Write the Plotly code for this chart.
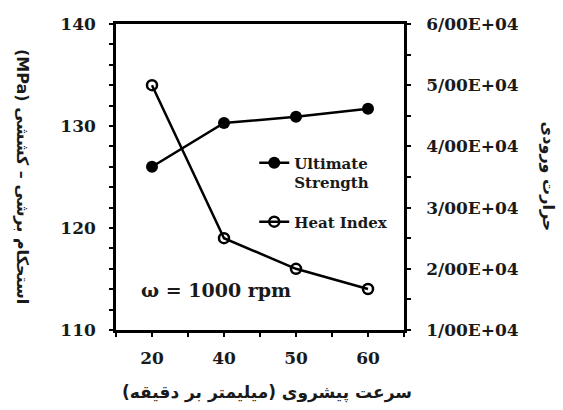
import plotly.graph_objects as go

speeds = ["20", "40", "50", "60"]
strength = [126.0, 130.3, 130.9, 131.7]
heat_index = [50000, 25000, 20000, 16700]
y2_ticks = [10000, 20000, 30000, 40000, 50000, 60000]
y2_ticklabels = ["1/00E+04", "2/00E+04", "3/00E+04", "4/00E+04", "5/00E+04", "6/00E+04"]

xpos = list(range(len(speeds)))
serif = "DejaVu Serif"
fa = "DejaVu Sans"
txt = "#1a1a1a"

fig = go.Figure()
fig.add_trace(go.Scatter(
    x=xpos, y=strength, name="Ultimate<br>Strength", mode="lines+markers",
    legendgroup="a",
    line=dict(color="black", width=2.5),
    marker=dict(symbol="circle", size=12, color="black"),
))
fig.add_trace(go.Scatter(
    x=xpos, y=heat_index, name="Heat Index", mode="lines+markers", yaxis="y2",
    legendgroup="b",
    line=dict(color="black", width=2.5),
    marker=dict(symbol="circle-open", size=10, color="black", line=dict(width=2.5)),
))

axis_common = dict(showline=True, linecolor="black", linewidth=2.5, showgrid=False,
                   zeroline=False, ticks="outside", tickcolor="black", tickwidth=2, ticklen=4)

fig.update_layout(
    width=563, height=410,
    margin=dict(l=116, r=159, t=24, b=80),
    paper_bgcolor="white", plot_bgcolor="white",
    font=dict(family=serif, color=txt),
    xaxis=dict(
        range=[-0.5, 3.5], tickvals=xpos, ticktext=speeds, mirror=True,
        tickfont=dict(family=serif, size=17, color=txt, weight="bold"),
        ticklabelstandoff=7,
        minor=dict(tickvals=[-0.5, 0.5, 1.5, 2.5, 3.5], ticks="outside", ticklen=4,
                   tickwidth=2, tickcolor="black"),
        **axis_common,
    ),
    yaxis=dict(
        range=[110, 140], tickvals=[110, 120, 130, 140],
        tickfont=dict(family=serif, size=17, color=txt, weight="bold"),
        ticklabelstandoff=10,
        minor=dict(dtick=2, tick0=110, ticks="outside", ticklen=4, tickwidth=2, tickcolor="black"),
        **axis_common,
    ),
    yaxis2=dict(
        overlaying="y", side="right", range=[10000, 60000],
        tickvals=y2_ticks, ticktext=y2_ticklabels,
        tickfont=dict(family=serif, size=17, color=txt, weight="bold"),
        ticklabelstandoff=12,
        minor=dict(dtick=5000, tick0=10000, ticks="outside", ticklen=4, tickwidth=2, tickcolor="black"),
        **axis_common,
    ),
    legend=dict(
        x=0.48, y=0.6, xanchor="left", yanchor="top", valign="top",
        bgcolor="rgba(0,0,0,0)", borderwidth=0,
        font=dict(family=serif, size=15, color=txt, weight="bold"),
        tracegroupgap=17,
    ),
    showlegend=True,
)

fig.add_annotation(
    x=0.89, y=113.9, xref="x", yref="y", text="ω = 1000 rpm", showarrow=False,
    font=dict(family=serif, size=19, color=txt, weight="bold"),
)
fig.add_annotation(
    x=-0.323, y=0.5, xref="paper", yref="paper", xanchor="center", yanchor="middle",
    text="(MPa) استحکام برشی – کششی", textangle=90, showarrow=False,
    font=dict(family=fa, size=16, color=txt, weight="bold"),
)
fig.add_annotation(
    x=1.505, y=0.5, xref="paper", yref="paper", xanchor="center", yanchor="middle",
    text="حرارت ورودی", textangle=90, showarrow=False,
    font=dict(family=fa, size=16, color=txt, weight="bold"),
)
fig.add_annotation(
    x=0.525, y=-0.162, xref="paper", yref="paper", xanchor="center", yanchor="top",
    text="سرعت پیشروی (میلیمتر بر دقیقه)", showarrow=False,
    font=dict(family=fa, size=17, color=txt, weight="bold"),
)

fig.write_html("out.html")
